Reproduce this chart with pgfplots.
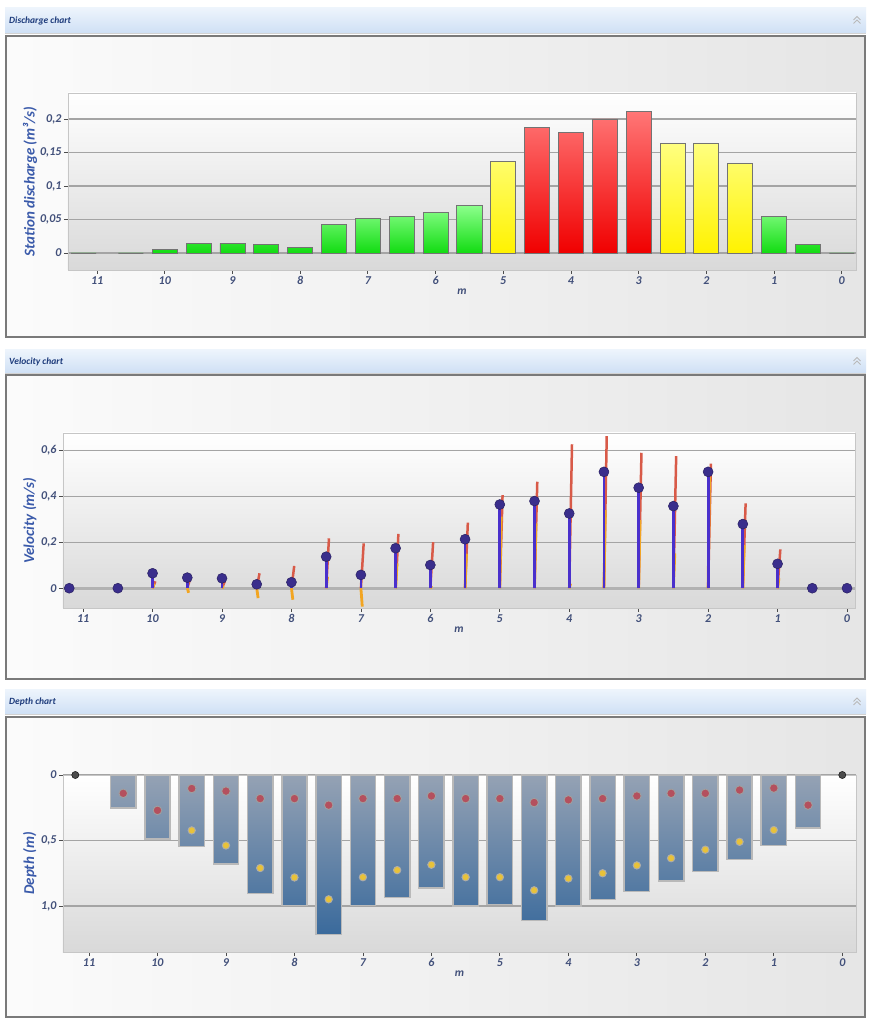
\documentclass[border=0pt]{standalone}
\usepackage{pgfplots}
\usepackage{pgfplotstable}
\pgfplotsset{compat=1.18}
\usepackage{fontspec}
\setmainfont{Carlito}
\definecolor{titlec}{HTML}{1D3B7B}
\definecolor{labc}{HTML}{3A5AAA}
\definecolor{tickc}{HTML}{42507A}
\definecolor{hdrtop}{HTML}{EDF4FC}
\definecolor{hdrbot}{HTML}{CFE0F5}
\definecolor{framec}{HTML}{7A7A7A}
\definecolor{gridc}{HTML}{A4A4A4}
\definecolor{gtop}{HTML}{8CFF8C}
\definecolor{gbot}{HTML}{12DC12}
\definecolor{ytop}{HTML}{FFFF80}
\definecolor{ybot}{HTML}{FFF200}
\definecolor{rtop}{HTML}{FF7676}
\definecolor{rbot}{HTML}{F00000}
\definecolor{velred}{HTML}{D85A48}
\definecolor{velor}{HTML}{F2A522}
\definecolor{velblue}{HTML}{4A30CC}
\definecolor{veldot}{HTML}{3A2E8C}
\definecolor{dtop}{HTML}{95A2B4}
\definecolor{dbot}{HTML}{3A6A9C}
\definecolor{dred}{HTML}{B4505E}
\definecolor{dyel}{HTML}{E8C23A}

\pgfplotstableread{
x    z  b      r      o
11.2 0  0      0      0
10.5 0  0      0      0
10.0 0  0.065  0.030  0.020
9.5  0  0.046  0.040  -0.020
9.0  0  0.043  0.030  0.010
8.5  0  0.017  0.065  -0.043
8.0  0  0.026  0.097  -0.050
7.5  0  0.137  0.217  0.050
7.0  0  0.058  0.195  -0.080
6.5  0  0.174  0.236  0.108
6.0  0  0.101  0.200  0.010
5.5  0  0.213  0.285  0.150
5.0  0  0.364  0.405  0.311
4.5  0  0.379  0.463  0.282
4.0  0  0.325  0.626  0.020
3.5  0  0.506  0.661  0.340
3.0  0  0.437  0.589  0.296
2.5  0  0.357  0.574  0.152
2.0  0  0.506  0.542  0.484
1.5  0  0.279  0.369  0.188
1.0  0  0.106  0.169  0.043
0.5  0  0      0      0
0.0  0  0      0      0
}\veltab

\pgfplotstableread{
x    d      r      yl
10.5 0.250  0.140  nan
10.0 0.487  0.270  nan
9.5  0.544  0.103  0.423
9.0  0.680  0.123  0.538
8.5  0.905  0.180  0.710
8.0  0.995  0.180  0.782
7.5  1.218  0.230  0.949
7.0  0.995  0.180  0.780
6.5  0.936  0.180  0.726
6.0  0.864  0.160  0.685
5.5  1.000  0.180  0.780
5.0  0.990  0.180  0.780
4.5  1.110  0.210  0.880
4.0  1.000  0.190  0.790
3.5  0.950  0.180  0.750
3.0  0.890  0.160  0.690
2.5  0.810  0.140  0.635
2.0  0.735  0.140  0.570
1.5  0.645  0.115  0.510
1.0  0.540  0.100  0.420
0.5  0.405  0.230  nan
}\deptab

\pgfplotsset{
  panel/.style={
    scale only axis, x dir=reverse, clip=false,
    axis line style={draw=gray!45, line width=0.8pt},
    axis background/.style={top color=white, bottom color=gray!30},
    xtick={0,1,2,3,4,5,6,7,8,9,10,11},
    xticklabels={0,1,2,3,4,5,6,7,8,9,10,11},
    tick pos=left, tick align=outside,
    major tick length=4pt,
    tick style={draw=black!70, line width=0.8pt},
    ymajorgrids, grid style={draw=gridc, line width=1.2pt},
    /pgf/number format/assume math mode=true,
    tick label style={font=\bfseries\itshape\fontsize{12}{14}\selectfont, text=tickc},
    xticklabel style={yshift=1pt},
    yticklabel style={xshift=1pt},
    xlabel style={font=\bfseries\itshape\fontsize{11.5}{13}\selectfont, text=tickc, yshift=3pt},
    ylabel style={font=\bfseries\itshape\fontsize{15}{17}\selectfont, text=labc},
    xlabel={m},
  },
}
\newcommand\panelchrome[5]{% header bottom, header top, frame bottom, frame top, title
  \shade[top color=hdrtop, bottom color=hdrbot] (5pt,#1pt) rectangle (866pt,#2pt);
  \draw[gray!35, line width=0.8pt] (5pt,#1pt) -- (866pt,#1pt);
  \node[anchor=west, inner sep=0pt, font=\bfseries\itshape\fontsize{9.5}{11}\selectfont, text=titlec]
     at (9pt,{(#1+#2)/2*1pt}) {#5};
  \draw[gray!55, line width=0.8pt] (853.5pt,{(#1+#2)/2*1pt+0.5pt}) -- (857pt,{(#1+#2)/2*1pt+4pt}) -- (860.5pt,{(#1+#2)/2*1pt+0.5pt});
  \draw[gray!55, line width=0.8pt] (853.5pt,{(#1+#2)/2*1pt-3pt}) -- (857pt,{(#1+#2)/2*1pt+0.5pt}) -- (860.5pt,{(#1+#2)/2*1pt-3pt});
  \shade[left color=gray!3, right color=gray!20] (6pt,#3pt) rectangle (865pt,#4pt);
  \draw[framec, line width=2pt] (6pt,#3pt) rectangle (865pt,#4pt);
}

\begin{document}
\begin{tikzpicture}
\path[use as bounding box, fill=white] (0pt,0pt) rectangle (871pt,1021pt);
\panelchrome{988}{1013}{684}{985}{Discharge chart}
\panelchrome{648}{671}{342}{646}{Velocity chart}
\panelchrome{307}{331}{4}{304}{Depth chart}

% ---------- Discharge chart ----------
\begin{axis}[panel,
  at={(68pt,751pt)}, anchor=south west, width=788pt, height=177pt,
  xmin=-0.21, xmax=11.43, ymin=-0.0254, ymax=0.2388,
  ytick={0,0.05,0.1,0.15,0.2},
  yticklabels={0,{0,05},{0,1},{0,15},{0,2}},
  ylabel={Station discharge (m³/s)},
  ylabel style={at={(axis description cs:-0.048,0.5)}, anchor=center},
]
\addplot[ybar, bar width=0.37, bar shift=0pt, draw=black!55, line width=0.9pt,
  top color=gtop, bottom color=gbot] coordinates {
  (11.2,0) (10.5,0) (10,0.005) (9.5,0.0145) (9,0.0145) (8.5,0.012) (8,0.0085)
  (7.5,0.043) (7,0.052) (6.5,0.054) (6,0.060) (5.5,0.071) (1,0.0546) (0.5,0.0124) (0,0)};
\addplot[ybar, bar width=0.37, bar shift=0pt, draw=black!55, line width=0.9pt,
  top color=ytop, bottom color=ybot] coordinates {
  (5,0.137) (2.5,0.164) (2,0.163) (1.5,0.133)};
\addplot[ybar, bar width=0.37, bar shift=0pt, draw=black!55, line width=0.9pt,
  top color=rtop, bottom color=rbot] coordinates {
  (4.5,0.188) (4,0.180) (3.5,0.200) (3,0.211)};
\end{axis}

% ---------- Velocity chart ----------
\begin{axis}[panel,
  at={(63pt,413pt)}, anchor=south west, width=792pt, height=175pt,
  xmin=-0.115, xmax=11.29, ymin=-0.086, ymax=0.675,
  ytick={0,0.2,0.4,0.6},
  yticklabels={0,{0,2},{0,4},{0,6}},
  ylabel={Velocity (m/s)},
  ylabel style={at={(axis description cs:-0.042,0.5)}, anchor=center},
]
\addplot[gray!60, line width=2.6pt] coordinates {(-0.115,0) (11.29,0)};
\addplot[quiver={u=-0.04, v=\thisrow{r}}, -, draw=velred, line width=2.5pt, line cap=butt]
  table[x=x, y=z] {\veltab};
\addplot[quiver={u=-0.02, v=\thisrow{o}}, -, draw=velor, line width=2.8pt, line cap=butt]
  table[x=x, y=z] {\veltab};
\addplot[quiver={u=0, v=\thisrow{b}}, -, draw=velblue, line width=2.8pt, line cap=butt]
  table[x=x, y=z] {\veltab};
\addplot[only marks, mark=*, mark size=5pt,
  mark options={fill=veldot, draw=veldot!70!black, line width=0.5pt}]
  table[x=x, y=b] {\veltab};
\end{axis}

% ---------- Depth chart ----------
\begin{axis}[panel,
  at={(63pt,69pt)}, anchor=south west, width=793pt, height=177pt,
  xmin=-0.2, xmax=11.38, ymin=0, ymax=1.351, y dir=reverse,
  ytick={0,0.5,1},
  yticklabels={0,{0,5},{1,0}},
  ylabel={Depth (m)},
  ylabel style={at={(axis description cs:-0.042,0.5)}, anchor=center},
]
\addplot[ybar, bar width=0.37, bar shift=0pt, draw=gray!55, line width=1.5pt,
  top color=dtop, bottom color=dbot] table[x=x, y=d] {\deptab};
\addplot[only marks, mark=*, mark size=4.3pt,
  mark options={fill=dred, draw=gray!75, line width=0.9pt}]
  table[x=x, y=r] {\deptab};
\addplot[only marks, mark=*, mark size=3.7pt,
  mark options={fill=dyel, draw=gray!65, line width=0.9pt}]
  table[x=x, y=yl] {\deptab};
\addplot[only marks, mark=*, mark size=3.6pt,
  mark options={fill=black!70, draw=black}] coordinates {(11.2,0) (0,0)};
\end{axis}
\end{tikzpicture}
\end{document}
